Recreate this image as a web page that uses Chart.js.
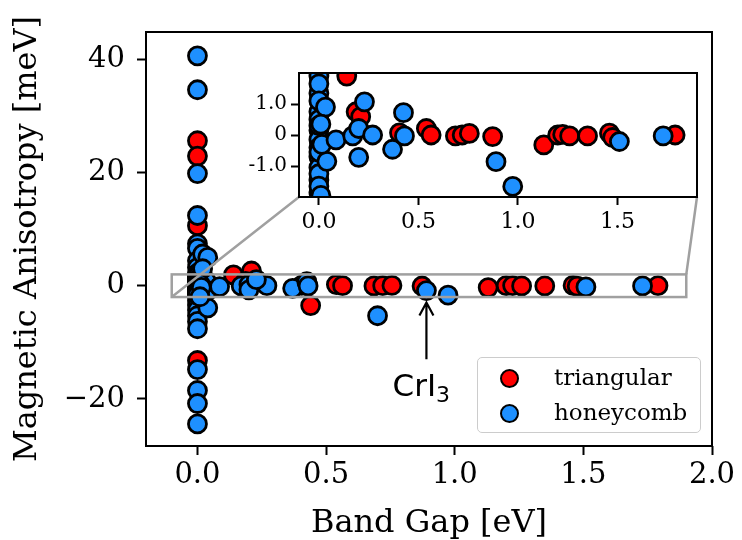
<!DOCTYPE html>
<html>
<head>
<meta charset="utf-8">
<script src="https://cdn.jsdelivr.net/npm/chart.js@4.4.1/dist/chart.umd.min.js"></script>
<style>
  body { margin: 0; background: #fff; }
  #wrap { position: relative; width: 742px; height: 540px; overflow: hidden; }
  #mainChart { position: absolute; left: 0; top: 0; }
  #insetChart { position: absolute; left: 230px; top: 55px; }
  .legend {
    position: absolute; left: 477px; top: 357px; width: 222px; height: 74px;
    border: 1.5px solid #ccc; border-radius: 5px; background: rgba(255,255,255,0.8);
    font-family: "DejaVu Serif", serif; font-size: 23px; color: #000;
  }
  .legend .row { position: absolute; left: 0; height: 30px; line-height: 30px; }
  .legend .dot {
    position: absolute; left: 22px; top: 5px; width: 15px; height: 15px;
    border: 2.8px solid #000; border-radius: 50%;
  }
  .legend .lbl { position: absolute; left: 76px; top: -2px; white-space: nowrap; }
</style>
</head>
<body>
<div id="wrap">
  <canvas id="mainChart" width="742" height="540"></canvas>
  <canvas id="insetChart" width="480" height="190"></canvas>
  <div class="legend">
    <div class="row" style="top:6px"><span class="dot" style="background:#ff0000"></span><span class="lbl">triangular</span></div>
    <div class="row" style="top:41px"><span class="dot" style="background:#1e90ff"></span><span class="lbl">honeycomb</span></div>
  </div>
</div>
<script>
// triangular lattice materials: band gap [eV] vs magnetic anisotropy [meV]
const triX = [0, 0, 0, 0, 0.14, 0.21, 0.187, 0.21, 0.405, 0.44, 0.54, 0.564,
  0.686, 0.72, 0.756, 0.873, 1.13, 1.2, 1.225, 1.26, 1.35, 1.46, 1.476, 1.79];
const triY = [25.6, 22.9, 10.6, -13.2, 1.9, 2.6, 0.75, 0.59, 0.07, -3.5, 0.21, 0.0,
  -0.03, 0.0, 0.05, -0.05, -0.32, 0.0, 0.02, -0.03, -0.03, 0.06, -0.08, 0.0];

// honeycomb lattice materials
const honX = [0, 0, 0, 0, 0, 0, 0, 0, 0, 0, 0, 0, 0, 0, 0, 0, 0, 0, 0, 0, 0, 0, 0, 0, 0, 0, 0, 0,
  0, 0, 0, 0, 0, 0, 0, 0,
  0.02, 0.04, 0.04, 0.033, 0.04, 0.02, 0.01, 0.015, 0.01,
  0.086, 0.17, 0.2, 0.27, 0.2, 0.229, 0.37, 0.425, 0.43, 0.7, 0.89, 0.974, 1.51, 1.73];
const honY = [40.6, 34.6, 19.8, 12.4, 7.4, 6.6, 4.4, 3.2, 2.2, 1.9, 1.35, 0.75, 0.15, -0.15,
  -0.7, -1.05, -1.45, -1.85, -2.6, -3.4, -4.3, -5.3, -6.3, -7.6, -14.8, -18.5, -20.8, -24.4,
  1.65, 1.1, 0.5, 0.3, -0.4, -0.55, -1.25, -1.65,
  5.6, 5.0, -3.9, 0.9, -0.85, 3.0, 0.35, -0.3, -1.95,
  -0.16, -0.03, 0.21, 0.0, -0.72, 1.07, -0.46, 0.72, -0.03, -5.3, -0.86, -1.66, -0.21, -0.03];

const xTicks = [0, 0.5, 1.0, 1.5, 2.0];
const xTickLabels = ["0.0", "0.5", "1.0", "1.5", "2.0"];
const yTicks = [-20, 0, 20, 40];
const yTickLabels = ["\u221220", "0", "20", "40"];

const insetXTicks = [0, 0.5, 1.0, 1.5];
const insetXTickLabels = ["0.0", "0.5", "1.0", "1.5"];
const insetYTicks = [-1, 0, 1];
const insetYTickLabels = ["-1.0", "0", "1.0"];

// zoomed region shown in the inset
const zoomX = [-0.1, 1.9];
const zoomY = [-2, 2];

// CrI3 annotation: marked point and text position (data coords)
const crPoint = [0.89, -0.86];
const crText = [0.87, -19.5];

function toPoints(xs, ys) {
  return xs.map((x, i) => ({ x: x, y: ys[i] }));
}

function makeDatasets(clip) {
  return [
    {
      label: "triangular",
      data: toPoints(triX, triY),
      backgroundColor: "#ff0000",
      borderColor: "#000",
      borderWidth: 2.8,
      pointRadius: 9,
      order: 1,
      clip: clip
    },
    {
      label: "honeycomb",
      data: toPoints(honX, honY),
      backgroundColor: "#1e90ff",
      borderColor: "#000",
      borderWidth: 2.8,
      pointRadius: 9,
      order: 0,
      clip: clip
    }
  ];
}

function tickSetter(values) {
  return (scale) => {
    scale.ticks = values.map((v) => ({ value: v }));
  };
}

function tickLabeler(values, labels) {
  return (v) => labels[values.indexOf(v)];
}

const serif = "'DejaVu Serif', serif";

// inset axes
const insetCanvas = document.getElementById("insetChart");
const insetChart = new Chart(insetCanvas, {
  type: "scatter",
  data: { datasets: makeDatasets(0) },
  options: {
    responsive: false,
    animation: false,
    events: [],
    layout: { padding: { top: 18, right: 13, left: 0, bottom: 0 } },
    plugins: { legend: { display: false }, tooltip: { enabled: false } },
    scales: {
      x: {
        type: "linear",
        min: zoomX[0],
        max: zoomX[1],
        afterBuildTicks: tickSetter(insetXTicks),
        afterFit: (s) => { s.height = 48; },
        border: { display: false },
        grid: { drawOnChartArea: false, drawTicks: true, tickLength: 8, tickWidth: 2, tickColor: "#000" },
        ticks: {
          callback: tickLabeler(insetXTicks, insetXTickLabels),
          color: "#000", font: { family: serif, size: 22 }, padding: 4, maxRotation: 0
        }
      },
      y: {
        type: "linear",
        min: zoomY[0],
        max: zoomY[1],
        afterBuildTicks: tickSetter(insetYTicks),
        afterFit: (s) => { s.width = 69; },
        border: { display: false },
        grid: { drawOnChartArea: false, drawTicks: true, tickLength: 8, tickWidth: 2, tickColor: "#000" },
        ticks: {
          callback: tickLabeler(insetYTicks, insetYTickLabels),
          color: "#000", font: { family: serif, size: 20 }, padding: 4
        }
      }
    }
  },
  plugins: [{
    id: "insetFrame",
    beforeDraw: (chart) => {
      const a = chart.chartArea;
      const ctx = chart.ctx;
      ctx.save();
      ctx.fillStyle = "#fff";
      ctx.fillRect(a.left, a.top, a.right - a.left, a.bottom - a.top);
      ctx.restore();
    },
    afterDraw: (chart) => {
      const a = chart.chartArea;
      const ctx = chart.ctx;
      ctx.save();
      ctx.strokeStyle = "#000";
      ctx.lineWidth = 2;
      ctx.strokeRect(a.left, a.top, a.right - a.left, a.bottom - a.top);
      ctx.restore();
    }
  }]
});

// main axes
const mainChart = new Chart(document.getElementById("mainChart"), {
  type: "scatter",
  data: { datasets: makeDatasets(0) },
  options: {
    responsive: false,
    animation: false,
    events: [],
    layout: { padding: { top: 32, right: 30, left: 0, bottom: 0 } },
    plugins: { legend: { display: false }, tooltip: { enabled: false } },
    scales: {
      x: {
        type: "linear",
        min: -0.2,
        max: 2.0,
        afterBuildTicks: tickSetter(xTicks),
        afterFit: (s) => { s.height = 94; },
        border: { display: false },
        grid: { drawOnChartArea: false, drawTicks: true, tickLength: 9, tickWidth: 2, tickColor: "#000" },
        ticks: {
          callback: tickLabeler(xTicks, xTickLabels),
          color: "#000", font: { family: serif, size: 29 }, padding: 3, maxRotation: 0
        },
        title: {
          display: true, text: "Band Gap [eV]", color: "#000",
          font: { family: serif, size: 32 }, padding: { top: 0, bottom: -3 }
        }
      },
      y: {
        type: "linear",
        min: -28.3,
        max: 44.8,
        afterBuildTicks: tickSetter(yTicks),
        afterFit: (s) => { s.width = 146; },
        border: { display: false },
        grid: { drawOnChartArea: false, drawTicks: true, tickLength: 9, tickWidth: 2, tickColor: "#000" },
        ticks: {
          callback: tickLabeler(yTicks, yTickLabels),
          color: "#000", font: { family: serif, size: 29 }, padding: 12
        },
        title: {
          display: true, text: "Magnetic Anisotropy [meV]", color: "#000",
          font: { family: serif, size: 32 }, padding: { top: 8, bottom: 0 }
        }
      }
    }
  },
  plugins: [{
    id: "mainExtras",
    afterDraw: (chart) => {
      const a = chart.chartArea;
      const xs = chart.scales.x;
      const ys = chart.scales.y;
      const ctx = chart.ctx;
      ctx.save();

      // spines
      ctx.strokeStyle = "#000";
      ctx.lineWidth = 2;
      ctx.strokeRect(a.left, a.top, a.right - a.left, a.bottom - a.top);

      // zoom rectangle + connectors to inset corners
      const rx0 = xs.getPixelForValue(zoomX[0]);
      const rx1 = xs.getPixelForValue(zoomX[1]);
      const ry0 = ys.getPixelForValue(zoomY[0]);
      const ry1 = ys.getPixelForValue(zoomY[1]);
      const ia = insetChart.chartArea;
      const ox = insetCanvas.offsetLeft;
      const oy = insetCanvas.offsetTop;
      ctx.strokeStyle = "#a0a0a0";
      ctx.lineWidth = 2.5;
      ctx.strokeRect(rx0, ry1, rx1 - rx0, ry0 - ry1);
      ctx.beginPath();
      ctx.moveTo(rx0, ry0);
      ctx.lineTo(ox + ia.left, oy + ia.bottom);
      ctx.moveTo(rx1, ry1);
      ctx.lineTo(ox + ia.right, oy + ia.bottom);
      ctx.stroke();

      // CrI3 annotation arrow
      const px = xs.getPixelForValue(crPoint[0]);
      const tipY = ys.getPixelForValue(crPoint[1]) + 12;
      const tx = xs.getPixelForValue(crText[0]);
      const ty = ys.getPixelForValue(crText[1]);
      ctx.strokeStyle = "#000";
      ctx.lineWidth = 2.2;
      ctx.beginPath();
      ctx.moveTo(px, ty - 37);
      ctx.lineTo(px, tipY);
      ctx.moveTo(px - 7, tipY + 13);
      ctx.lineTo(px, tipY);
      ctx.lineTo(px + 7, tipY + 13);
      ctx.stroke();

      // CrI3 label with subscript
      ctx.fillStyle = "#000";
      ctx.textBaseline = "alphabetic";
      ctx.font = "31px 'DejaVu Sans', sans-serif";
      const w1 = ctx.measureText("CrI").width;
      ctx.font = "22px 'DejaVu Sans', sans-serif";
      const w2 = ctx.measureText("3").width;
      const left = tx - (w1 + w2) / 2;
      ctx.font = "31px 'DejaVu Sans', sans-serif";
      ctx.textAlign = "left";
      ctx.fillText("CrI", left, ty);
      ctx.font = "22px 'DejaVu Sans', sans-serif";
      ctx.fillText("3", left + w1, ty + 6);
      ctx.restore();
    }
  }]
});
</script>
</body>
</html>
